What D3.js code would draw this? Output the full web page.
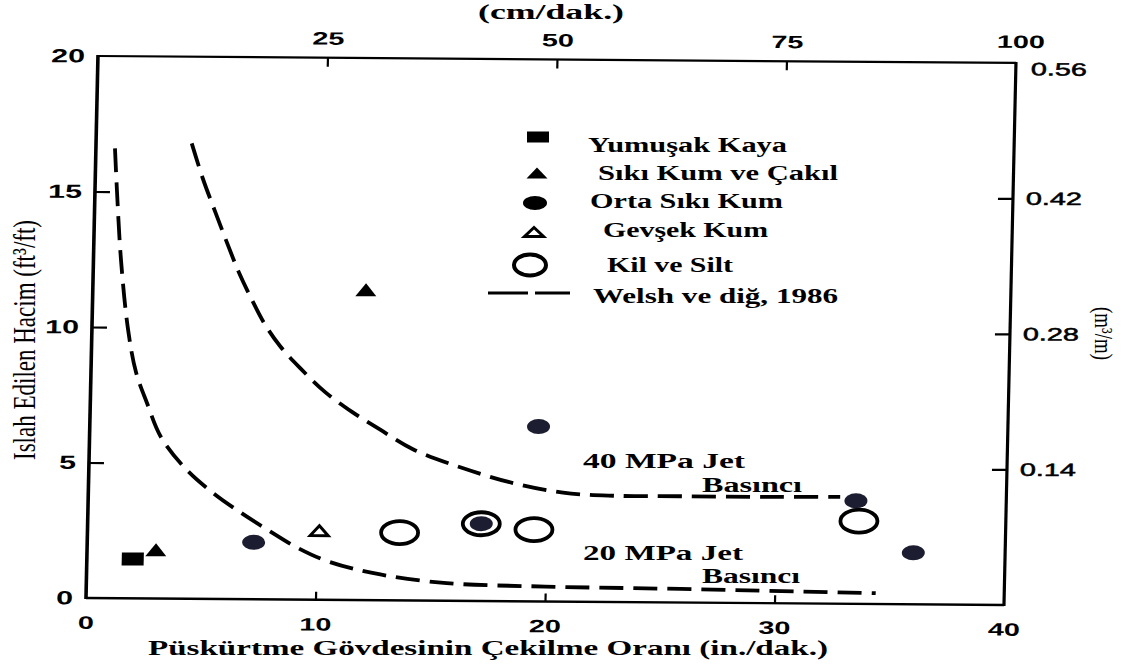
<!DOCTYPE html>
<html>
<head>
<meta charset="utf-8">
<script src="https://cdn.jsdelivr.net/npm/d3@7"></script>
<style>
  html, body { margin: 0; background: #fff; }
  svg { display: block; }
</style>
</head>
<body>
<svg id="chart" width="1131" height="668"></svg>
<script>
// ---- data ---------------------------------------------------------------
// bottom axis: withdrawal rate (in./dak.), left axis: treated volume (ft³/ft)
const xTickValues = [0, 10, 20, 30, 40];
const yTickValues = [0, 5, 10, 15, 20];
const topTickValues = [25, 50, 75, 100];          // cm/dak.
const rightTickValues = [0.14, 0.28, 0.42, 0.56]; // m³/m

// soil groups: [rate in./dak., volume ft³/ft]
const softRock = [[2.0, 1.45]];
const denseSandGravel = [[3.0, 1.8], [11.9, 11.45]];
const mediumSand = [[7.25, 2.1], [19.55, 6.45], [17.15, 2.85], [33.45, 3.8], [36.0, 1.9]];
const looseSand = [[10.1, 2.55]];
const claySilt = [[13.6, 2.5], [17.15, 2.85], [19.45, 2.65], [33.6, 3.05]];

// Welsh et al. (1986) envelopes
const welsh40 = [[4.17, 16.8], [4.69, 15.5], [5.25, 14.3], [5.8, 13.15], [6.35, 12.05],
  [6.94, 11.05], [7.49, 10.2], [8.21, 9.35], [9.1, 8.55], [10.21, 7.67], [11.41, 6.94],
  [12.64, 6.3], [14.1, 5.58], [16.28, 4.9], [18.49, 4.36], [20.68, 4.02], [22.86, 3.92],
  [25.8, 3.92], [29.6, 3.92], [32.76, 3.94]];
const welsh20 = [[0.83, 16.6], [0.96, 15.0], [1.2, 12.48], [1.57, 9.94], [1.96, 8.35],
  [2.47, 7.21], [3.11, 5.96], [4.19, 4.82], [5.39, 3.94], [6.63, 3.21], [7.86, 2.56],
  [9.19, 1.9], [10.6, 1.39], [12.8, 0.95], [15.7, 0.65], [20.0, 0.55], [25.9, 0.5], [34.4, 0.4]];

const legendLabels = ["Yumuşak Kaya", "Sıkı Kum ve Çakıl", "Orta Sıkı Kum",
  "Gevşek Kum", "Kil ve Silt", "Welsh ve diğ, 1986"];
const xTitle = "Püskürtme Gövdesinin Çekilme Oranı (in./dak.)";
const yTitle = "Islah Edilen Hacim (ft³/ft)";
const topTitle = "(cm/dak.)";
const rightTitle = "(m³/m)";

// ---- layout -------------------------------------------------------------
const SERIF = "'Liberation Serif', 'Times New Roman', serif";
const SANS = "'Liberation Sans', Arial, sans-serif";
const INK = "#000";
const DOT = "#1c1d30";

const svg = d3.select("#chart");

const x = d3.scaleLinear().domain([0, 40]).range([86, 1004]);
const y = d3.scaleLinear().domain([0, 20]).range([598, 56]);
const xTop = d3.scaleLinear().domain([0, 100]).range(x.range());
const yRight = d3.scaleLinear().domain([0, 0.56]).range(y.range());

// the printed frame leans slightly; plot group carries that lean
const plot = svg.append("g")
  .attr("transform", "matrix(1,0.0076,-0.0221,1,13.2,-0.67)");

// frame
const [x0, x1] = x.range();
const [yb, yt] = y.range();
plot.append("line").attr("x1", x0).attr("x2", x0).attr("y1", yt - 1).attr("y2", yb + 1)
  .attr("stroke", INK).attr("stroke-width", 3.6);
plot.append("line").attr("x1", x1).attr("x2", x1).attr("y1", yt - 1).attr("y2", yb + 1)
  .attr("stroke", INK).attr("stroke-width", 3.2);
plot.append("line").attr("x1", x0).attr("x2", x1).attr("y1", yt).attr("y2", yt)
  .attr("stroke", INK).attr("stroke-width", 2.2);
plot.append("line").attr("x1", x0).attr("x2", x1).attr("y1", yb).attr("y2", yb)
  .attr("stroke", INK).attr("stroke-width", 2.4);

const STRETCH = 1.6;
function styleAxis(g, size, weight) {
  g.select(".domain").remove();
  g.selectAll(".tick line").attr("stroke", INK).attr("stroke-width", 2.2);
  g.selectAll(".tick text")
    .attr("fill", INK)
    .style("font-family", SANS)
    .style("font-size", size + "px")
    .style("font-weight", weight);
}

// bottom axis (in./dak.)
const gBottom = plot.append("g").attr("transform", `translate(0,${yb})`)
  .call(d3.axisBottom(x).tickValues(xTickValues).tickSizeInner(-8).tickSizeOuter(0).tickPadding(18));
styleAxis(gBottom, 18, "bold");
gBottom.selectAll(".tick line").filter(d => d === 0 || d === 40).remove();
gBottom.selectAll(".tick text").attr("transform", `scale(${STRETCH},1)`);

// left axis (ft³/ft)
const gLeft = plot.append("g").attr("transform", `translate(${x0},0)`)
  .call(d3.axisLeft(y).tickValues(yTickValues).tickSizeInner(-15).tickSizeOuter(0).tickPadding(0));
styleAxis(gLeft, 19, "bold");
gLeft.selectAll(".tick line").filter(d => d === 0 || d === 20).remove();
gLeft.selectAll(".tick text").attr("x", 0).attr("transform", `translate(-13,0) scale(${STRETCH},1)`);

// top axis (cm/dak.)
const gTop = plot.append("g").attr("transform", `translate(0,${yt})`)
  .call(d3.axisTop(xTop).tickValues(topTickValues).tickSizeInner(-9).tickSizeOuter(0).tickPadding(13));
styleAxis(gTop, 18, "bold");
gTop.selectAll(".tick line").filter(d => d === 100).remove();
gTop.selectAll(".tick text").attr("transform", `scale(${STRETCH},1)`);
gTop.selectAll(".tick").filter(d => d === 100).select("text").attr("transform", `translate(4,-2) scale(${STRETCH},1)`);

// right axis (m³/m)
const gRight = plot.append("g").attr("transform", `translate(${x1},0)`)
  .call(d3.axisRight(yRight).tickValues(rightTickValues).tickFormat(d3.format(".2f"))
    .tickSizeInner(-15).tickSizeOuter(0).tickPadding(0));
styleAxis(gRight, 18, "normal");
gRight.selectAll(".tick line").filter(d => d === 0.56).remove();
gRight.selectAll(".tick text").attr("x", 0).attr("transform", `translate(13,0) scale(${STRETCH},1)`)
  .style("stroke", INK).style("stroke-width", 0.5);
gRight.selectAll(".tick").filter(d => d === 0.56).select("text")
  .attr("transform", `translate(15,6) scale(${STRETCH},1)`);

// envelopes
const line = d3.line().x(d => x(d[0])).y(d => y(d[1])).curve(d3.curveCatmullRom.alpha(0.5));
[welsh40, welsh20].forEach(c => {
  plot.append("path").attr("d", line(c))
    .attr("fill", "none").attr("stroke", INK).attr("stroke-width", 3.8)
    .attr("stroke-dasharray", "24,10").attr("stroke-linecap", "butt");
});

// marker helpers
function tri(w, h) { return `M${-w / 2},${h / 2}L${w / 2},${h / 2}L0,${-h / 2}Z`; }

plot.selectAll(".softRock").data(softRock).join("rect").attr("class", "softRock")
  .attr("x", d => x(d[0]) - 11).attr("y", d => y(d[1]) - 6.5)
  .attr("width", 22).attr("height", 13).attr("fill", INK);

plot.selectAll(".denseSand").data(denseSandGravel).join("path").attr("class", "denseSand")
  .attr("transform", d => `translate(${x(d[0])},${y(d[1])})`)
  .attr("d", tri(21, 13)).attr("fill", INK);

plot.selectAll(".looseSand").data(looseSand).join("path").attr("class", "looseSand")
  .attr("transform", d => `translate(${x(d[0])},${y(d[1])})`)
  .attr("d", tri(18, 10)).attr("fill", "none").attr("stroke", INK).attr("stroke-width", 3)
  .attr("stroke-linejoin", "miter");

plot.selectAll(".claySilt").data(claySilt).join("ellipse").attr("class", "claySilt")
  .attr("cx", d => x(d[0])).attr("cy", d => y(d[1]))
  .attr("rx", 18.5).attr("ry", 11.5)
  .attr("fill", "none").attr("stroke", INK).attr("stroke-width", 3.8);

plot.selectAll(".mediumSand").data(mediumSand).join("ellipse").attr("class", "mediumSand")
  .attr("cx", d => x(d[0])).attr("cy", d => y(d[1]))
  .attr("rx", 11.5).attr("ry", 7.5).attr("fill", DOT);

// legend
const legend = svg.append("g");
const legendRows = [
  { my: 137, mx: 538, tx: 588, tw: 199, by: 152 },
  { my: 173, mx: 537, tx: 598, tw: 240, by: 180 },
  { my: 203, mx: 535, tx: 590, tw: 193, by: 208 },
  { my: 232, mx: 534, tx: 603, tw: 165, by: 237 },
  { my: 265, mx: 530, tx: 607, tw: 126, by: 272 },
  { my: 293, mx: 529, tx: 593, tw: 245, by: 303 }
];
const r = legendRows;
legend.append("rect").attr("x", r[0].mx - 11).attr("y", r[0].my - 5.5).attr("width", 22).attr("height", 11).attr("fill", INK);
legend.append("path").attr("transform", `translate(${r[1].mx},${r[1].my})`).attr("d", tri(21, 11)).attr("fill", INK);
legend.append("ellipse").attr("cx", r[2].mx).attr("cy", r[2].my).attr("rx", 12).attr("ry", 7).attr("fill", INK);
legend.append("path").attr("transform", `translate(${r[3].mx},${r[3].my})`).attr("d", tri(19, 9))
  .attr("fill", "none").attr("stroke", INK).attr("stroke-width", 3);
legend.append("ellipse").attr("cx", r[4].mx).attr("cy", r[4].my).attr("rx", 16).attr("ry", 10.5)
  .attr("fill", "none").attr("stroke", INK).attr("stroke-width", 4);
legend.append("line").attr("x1", 488).attr("x2", 570).attr("y1", r[5].my).attr("y2", r[5].my)
  .attr("stroke", INK).attr("stroke-width", 3).attr("stroke-dasharray", "40,7");

function serifText(g, str, xStart, width, baseline, size, weight) {
  return g.append("text")
    .attr("x", xStart).attr("y", baseline)
    .attr("textLength", width).attr("lengthAdjust", "spacingAndGlyphs")
    .style("font-family", SERIF).style("font-size", size + "px")
    .style("font-weight", weight || "bold").attr("fill", INK)
    .text(str);
}
legendLabels.forEach((t, i) => serifText(legend, t, r[i].tx, r[i].tw, r[i].by, 20));

// envelope captions
const notes = svg.append("g");
serifText(notes, "40 MPa Jet", 583, 162, 468, 20);
serifText(notes, "Basıncı", 702, 100, 492, 20);
serifText(notes, "20 MPa Jet", 583, 160, 560, 20);
serifText(notes, "Basıncı", 702, 98, 583, 20);

// axis titles
serifText(svg, topTitle, 478, 146, 19, 20);
serifText(svg, xTitle, 148, 680, 655, 21);

svg.append("text")
  .attr("transform", "translate(35,460) rotate(-90) scale(1,1.4)")
  .attr("textLength", 240).attr("lengthAdjust", "spacingAndGlyphs")
  .style("font-family", SERIF)
  .style("font-size", "23px").attr("fill", INK)
  .text(yTitle);

svg.append("text")
  .attr("transform", "translate(1095,307) rotate(90) scale(1,1.3)")
  .attr("textLength", 53).attr("lengthAdjust", "spacingAndGlyphs")
  .style("font-family", SERIF)
  .style("font-size", "19px").attr("fill", INK)
  .text(rightTitle);
</script>
</body>
</html>
